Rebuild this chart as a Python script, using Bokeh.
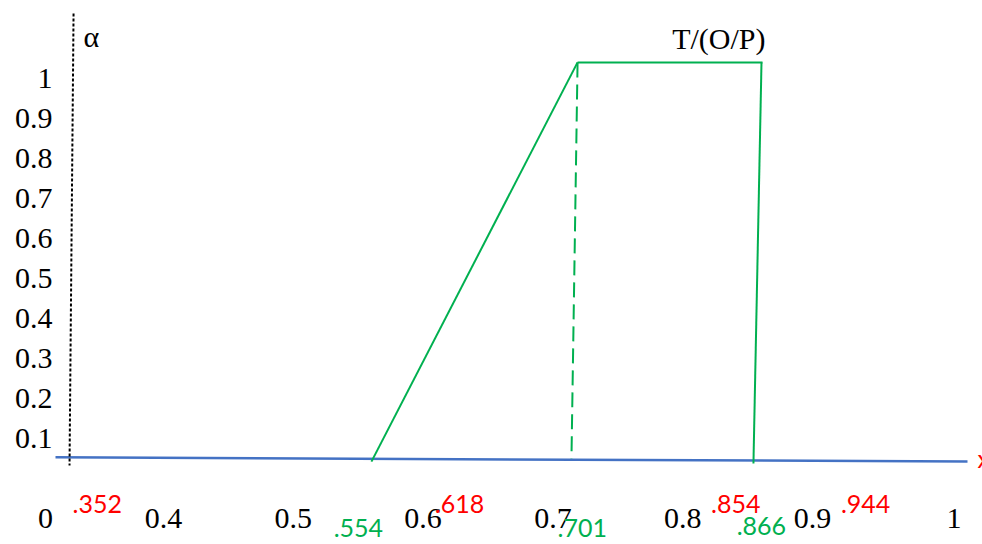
from bokeh.plotting import figure
from bokeh.models import Range1d
from bokeh.embed import file_html
from bokeh.resources import INLINE

# ---- data ----
y_ticks = [0.1, 0.2, 0.3, 0.4, 0.5, 0.6, 0.7, 0.8, 0.9, 1.0]
y_tick_labels = ["0.1", "0.2", "0.3", "0.4", "0.5", "0.6", "0.7", "0.8", "0.9", "1"]
x_tick_pos = [0.309, 0.4, 0.5, 0.6, 0.7, 0.8, 0.9, 1.009]
x_tick_labels = ["0", "0.4", "0.5", "0.6", "0.7", "0.8", "0.9", "1"]

red_vals = [0.352, 0.618, 0.854, 0.944]
red_labels = [".352", ".618", ".854", ".944"]
green_vals = [0.554, 0.701, 0.866]
green_labels = [".554", ".701", ".866"]

# membership function T/(O/P) as drawn
slope_x = [0.5602, 0.7190]
slope_y = [0.041, 1.039]
top_x = [0.7190, 0.8615]
top_y = [1.039, 1.039]
dash_x = [0.7190, 0.7143]
dash_y = [1.039, 0.049]
right_x = [0.8607, 0.8545]
right_y = [1.039, 0.036]

base_x = [0.3168, 1.0194]
base_y = [0.052, 0.041]
alpha_axis_x = [0.3307, 0.3276]
alpha_axis_y = [1.161, 0.031]

# ---- styles / placements ----
GREEN = "#00B050"
BLUE = "#4472C4"
RED = "#FF0000"
SERIF = "Liberation Serif"
SANS = "Lato"
red_offsets = [-4, 13, -17, -4]
green_offsets = [-5, 28, -7]
green_mid = [-0.124, -0.126, -0.119]

p = figure(width=982, height=544, output_backend="svg", toolbar_location=None,
           x_range=Range1d(0.27442, 1.03097), y_range=Range1d(-0.16625, 1.19375),
           min_border=0, outline_line_color=None)
p.axis.visible = False
p.grid.visible = False
p.background_fill_color = "white"
p.border_fill_color = "white"

# axes drawn as lines
p.line(base_x, base_y, line_color=BLUE, line_width=2.5)
p.line(alpha_axis_x, alpha_axis_y, line_color="black", line_width=2, line_dash="3 2")

# membership function
p.line(slope_x, slope_y, line_color=GREEN, line_width=2)
p.line(top_x, top_y, line_color=GREEN, line_width=2)
p.line(right_x, right_y, line_color=GREEN, line_width=2)
p.line(dash_x, dash_y, line_color=GREEN, line_width=2, line_dash="15 7")

# y tick labels
x0 = p.x_range.start
p.text(x=[x0] * len(y_ticks), y=y_ticks, text=y_tick_labels, x_offset=52,
       text_align="right", text_baseline="middle",
       text_font={"value": SERIF}, text_font_size="30px", text_color="black")

# x tick labels
p.text(x=x_tick_pos, y=[-0.1] * len(x_tick_pos), text=x_tick_labels,
       text_align="center", text_baseline="middle",
       text_font={"value": SERIF}, text_font_size="30px", text_color="black")

# red and green value labels
p.text(x=red_vals, y=[-0.0638] * len(red_vals), text=red_labels, x_offset=red_offsets,
       text_align="center", text_baseline="middle",
       text_font={"value": SANS}, text_font_size="25px", text_color=RED)
p.text(x=green_vals, y=green_mid, text=green_labels, x_offset=green_offsets,
       text_align="center", text_baseline="middle",
       text_font={"value": SANS}, text_font_size="25px", text_color=GREEN)

# titles
p.text(x=[0.3307], y=[1.105], text=["α"], x_offset=10,
       text_align="left", text_baseline="middle",
       text_font={"value": SERIF}, text_font_size="30px", text_color="black")
p.text(x=[0.8615], y=[1.1], text=["T/(O/P)"], x_offset=3,
       text_align="right", text_baseline="middle",
       text_font={"value": SERIF}, text_font_size="30px", text_color="black")
p.text(x=[1.0194], y=[0.05], text=["x"], x_offset=10,
       text_align="left", text_baseline="middle",
       text_font={"value": SANS}, text_font_size="25px", text_color=RED)

open("out.html", "w").write(file_html(p, INLINE))
